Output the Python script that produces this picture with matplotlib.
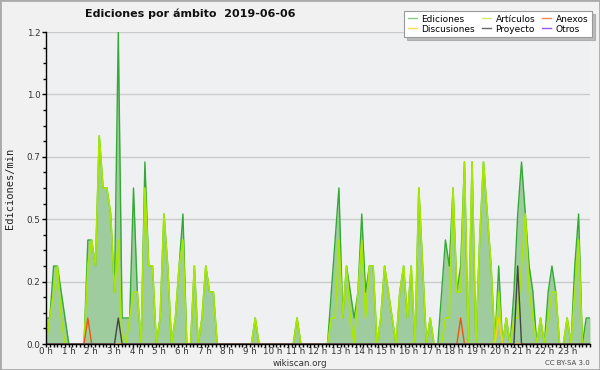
import numpy as np
import matplotlib.pyplot as plt
from matplotlib.patches import Rectangle
from matplotlib.lines import Line2D
from matplotlib.ticker import FixedLocator, MultipleLocator

# ediciones por minuto, bloques de 10 min (6 por hora)
ediciones = [
    0.1, 0.1, 0.3, 0.3, 0.2, 0.1,   # 0 h
    0, 0, 0, 0, 0, 0.4,             # 1 h
    0.4, 0.3, 0.8, 0.6, 0.6, 0.5,   # 2 h
    0.2, 1.2, 0.1, 0.1, 0.1, 0.6,   # 3 h
    0.2, 0, 0.7, 0.3, 0.3, 0,       # 4 h
    0.1, 0.5, 0.3, 0, 0.1, 0.3,     # 5 h
    0.5, 0, 0, 0.3, 0, 0.1,         # 6 h
    0.3, 0.2, 0.2, 0, 0, 0,         # 7 h
    0, 0, 0, 0, 0, 0,               # 8 h
    0, 0.1, 0, 0, 0, 0,             # 9 h
    0, 0, 0, 0, 0, 0,               # 10 h
    0.1, 0, 0, 0, 0, 0,             # 11 h
    0, 0, 0, 0.2, 0.4, 0.6,         # 12 h
    0.1, 0.3, 0.2, 0.1, 0.2, 0.5,   # 13 h
    0.2, 0.3, 0.3, 0, 0.1, 0.3,     # 14 h
    0.2, 0.1, 0, 0.2, 0.3, 0.1,     # 15 h
    0.3, 0, 0.6, 0.3, 0, 0.1,       # 16 h
    0, 0, 0.2, 0.4, 0.3, 0.6,       # 17 h
    0.2, 0.3, 0.7, 0, 0.7, 0,       # 18 h
    0.4, 0.7, 0.5, 0.3, 0, 0.3,     # 19 h
    0, 0.1, 0, 0.2, 0.5, 0.7,       # 20 h
    0.5, 0.3, 0.2, 0, 0.1, 0,       # 21 h
    0.2, 0.3, 0.2, 0, 0, 0.1,       # 22 h
    0, 0.3, 0.5, 0, 0.1, 0.1,       # 23 h
]

articulos = [
    0, 0.1, 0.2, 0.3, 0.1, 0,
    0, 0, 0, 0, 0, 0.3,
    0.4, 0.3, 0.8, 0.6, 0.6, 0.5,
    0.2, 0.4, 0, 0, 0.1, 0.2,
    0.2, 0, 0.6, 0.3, 0.3, 0,
    0.1, 0.5, 0.3, 0, 0.1, 0.3,
    0.4, 0, 0, 0.3, 0, 0.1,
    0.3, 0.2, 0.2, 0, 0, 0,
    0, 0, 0, 0, 0, 0,
    0, 0.1, 0, 0, 0, 0,
    0, 0, 0, 0, 0, 0,
    0.1, 0, 0, 0, 0, 0,
    0, 0, 0, 0.1, 0.1, 0.4,
    0.1, 0.3, 0.1, 0, 0.2, 0.4,
    0.1, 0.3, 0.3, 0, 0.1, 0.3,
    0.2, 0.1, 0, 0.2, 0.3, 0.1,
    0.3, 0, 0.6, 0.3, 0, 0.1,
    0, 0, 0, 0.1, 0.1, 0.6,
    0.2, 0.2, 0.7, 0, 0.7, 0,
    0.4, 0.7, 0.5, 0.3, 0, 0.2,
    0, 0.1, 0, 0.1, 0.1, 0.3,
    0.5, 0.2, 0.1, 0, 0.1, 0,
    0.1, 0.2, 0.2, 0, 0, 0.1,
    0, 0.2, 0.4, 0, 0, 0,
]

# series casi vacias: bloque -> valor
anexos_pts = {11: 0.1, 109: 0.1}
discusiones_pts = {119: 0.1}
proyecto_pts = {19: 0.1, 124: 0.3}
otros_pts = {}

horas_lbl = ['%d h' % h for h in range(24)]

n = len(ediciones)
t = np.linspace(0, 24, n)


def serie(pts):
    s = np.zeros(n)
    for k, v in pts.items():
        s[k] = v
    return s


fig = plt.figure(figsize=(6, 3.7), dpi=100, facecolor='#f1f1f1')
ax = fig.add_axes([46/600, 26/370, 544/600, 312/370])
ax.set_facecolor('#eef0f2')

ax.fill_between(t, 0, ediciones, color='#9fcc9f', lw=0)
ax.plot(t, ediciones, color='#33aa33', lw=1)
ax.plot(t, articulos, color='#a8e800', lw=1.2)
ax.plot(t, serie(anexos_pts), color='#ee5511', lw=1)
ax.plot(t, serie(discusiones_pts), color='#ffcc22', lw=1)
ax.plot(t, serie(proyecto_pts), color='#444444', lw=1)
ax.plot(t, serie(otros_pts), color='#8844ee', lw=1)

ax.set_xlim(0, 24)
ax.set_ylim(0, 1.2)

for s in ['top', 'right']:
    ax.spines[s].set_visible(False)
for s in ['left', 'bottom']:
    ax.spines[s].set_color('black')
    ax.spines[s].set_linewidth(1)
    ax.spines[s].set_zorder(5)

ax.set_xticks(range(25))
ax.set_xticklabels(horas_lbl + [''])
ax.xaxis.set_minor_locator(MultipleLocator(1/6))
yt = np.linspace(0, 1.2, 6)
ax.yaxis.set_major_locator(FixedLocator(yt))
ax.set_yticklabels(['%.1f' % v for v in yt])
ax.yaxis.set_minor_locator(MultipleLocator(0.06))
ax.tick_params(axis='both', which='major', width=1, labelsize=6.3,
               colors='black', labelcolor='#333333')
ax.tick_params(axis='x', which='major', length=2.5, pad=0)
ax.tick_params(axis='y', which='major', length=3, pad=1)
ax.tick_params(axis='x', which='minor', length=2.5, width=1, color='black')
ax.tick_params(axis='y', which='minor', length=2.5, width=1, color='black')

ax.set_axisbelow(True)
ax.yaxis.grid(True, color='#cccccc', lw=1)

fig.text(85/600, 1 - 14/370, 'Ediciones por ámbito  2019-06-06',
         fontsize=8, fontweight='bold', va='center', ha='left', color='#111111')
fig.text(10/600, 1 - 188/370, 'Ediciones/min', rotation=90,
         family='DejaVu Sans Mono', fontsize=7.5, va='center', ha='center', color='#222222')
fig.text(300/600, 1 - 363/370, 'wikiscan.org', fontsize=6.3, ha='center', va='center',
         color='#333333')
fig.text(590/600, 1 - 363/370, 'CC BY-SA 3.0', fontsize=5, ha='right', va='center',
         color='#444444')

handles = [
    Line2D([], [], color='#88cc88', lw=1),
    Line2D([], [], color='#ffdd55', lw=1),
    Line2D([], [], color='#ccee66', lw=1),
    Line2D([], [], color='#666666', lw=1),
    Line2D([], [], color='#ff8855', lw=1),
    Line2D([], [], color='#9955ee', lw=1),
]
labels = ['Ediciones', 'Discusiones', 'Artículos', 'Proyecto', 'Anexos', 'Otros']
leg = fig.legend(handles, labels, ncol=3, loc='upper left',
                 bbox_to_anchor=(404/600, 1 - 11/370), fontsize=6.5,
                 frameon=True, fancybox=False, shadow={'color': '#888888'},
                 handlelength=1.0, handletextpad=0.5, columnspacing=0.8,
                 labelspacing=0.1, borderpad=0.4, borderaxespad=0)
leg.get_frame().set_edgecolor('#999999')
leg.get_frame().set_linewidth(0.8)

fig.patches.append(Rectangle((0, 0), 1, 1, transform=fig.transFigure, fill=False,
                             edgecolor='#aaaaaa', lw=2))

fig.savefig('out.png', dpi=100, facecolor=fig.get_facecolor())
